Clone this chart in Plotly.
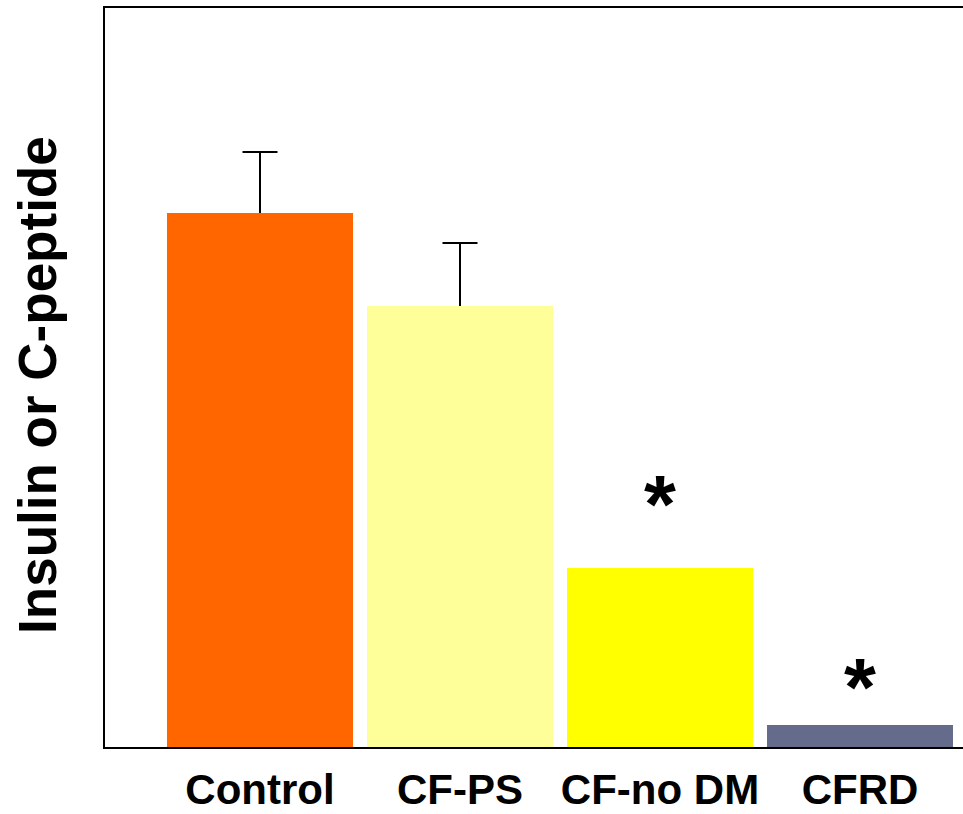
import plotly.graph_objects as go

categories = ["Control", "CF-PS", "CF-no DM", "CFRD"]
values = [5.34, 4.41, 1.79, 0.22]
errors = [0.61, 0.63, None, None]
colors = ["#FF6600", "#FFFF99", "#FFFF00", "#656C8B"]
sig_labels = ["", "", "*", "*"]
sig_y = [None, None, 2.54, 0.71]

FONT = "Liberation Sans, Arial, sans-serif"

fig = go.Figure()
fig.add_trace(go.Bar(
    x=list(range(len(categories))),
    y=values,
    width=0.93,
    marker=dict(color=colors, line=dict(width=0)),
))

# error bars (upper only): cap marker at top, stem going down to bar top
err_x = [i for i, e in enumerate(errors) if e is not None]
err_top = [values[i] + errors[i] for i in err_x]
err_len = [errors[i] for i in err_x]
fig.add_trace(go.Scatter(
    x=err_x, y=err_top, mode="markers",
    marker=dict(symbol="line-ew", size=25, color="black",
                line=dict(width=2, color="black")),
    error_y=dict(type="data", symmetric=False, array=[0] * len(err_x),
                 arrayminus=err_len, width=0, thickness=2, color="black"),
    hoverinfo="skip",
))

for i, (lab, yy) in enumerate(zip(sig_labels, sig_y)):
    if lab:
        fig.add_annotation(x=i, y=yy, text=lab, showarrow=False,
                           xanchor="center", yanchor="middle",
                           font=dict(family=FONT, size=82, color="black", weight="bold"),
                           yshift=-10)

fig.add_annotation(xref="paper", yref="paper", x=0, y=0.49, xshift=-67,
                   text="Insulin or C-peptide", textangle=-90, showarrow=False,
                   xanchor="center", yanchor="middle",
                   font=dict(family=FONT, size=53, color="black", weight="bold"))

fig.update_layout(
    width=963, height=814,
    margin=dict(l=105, r=0, t=8, b=67),
    paper_bgcolor="white", plot_bgcolor="white",
    showlegend=False,
    xaxis=dict(
        tickmode="array", tickvals=list(range(len(categories))), ticktext=categories,
        range=[-0.775, 3.515], showline=True, linecolor="black", linewidth=2,
        mirror=True, ticks="", showgrid=False, zeroline=False,
        ticklabelstandoff=5, automargin=False,
        tickfont=dict(family=FONT, size=42, color="black", weight="bold"),
    ),
    yaxis=dict(
        range=[0, 7.39], showline=True, linecolor="black", linewidth=2,
        showticklabels=False, ticks="", showgrid=False, zeroline=False,
        automargin=False,
    ),
)

fig.write_html("out.html", config={"displayModeBar": False},
               post_script="document.body.style.margin='0';document.body.style.overflow='hidden';")
